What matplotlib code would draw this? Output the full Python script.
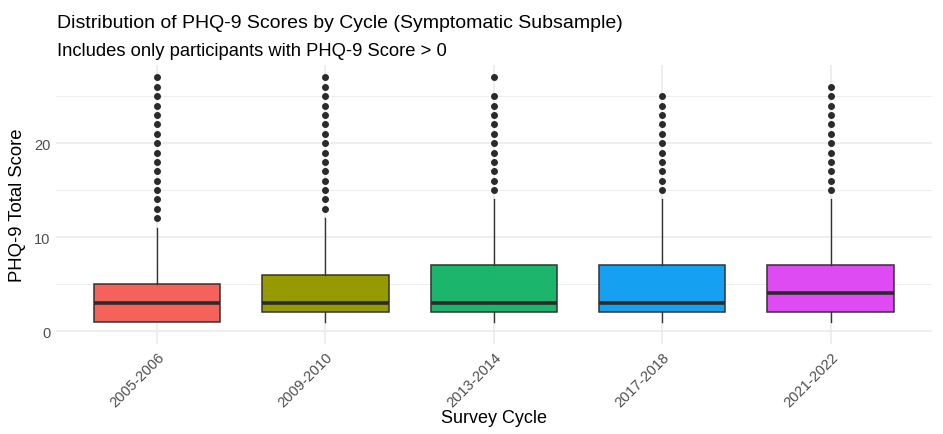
import matplotlib
matplotlib.use("Agg")
import matplotlib.pyplot as plt
import numpy as np

# dados
ciclos = ["2005-2006", "2009-2010", "2013-2014", "2017-2018", "2021-2022"]
q1 = [1, 2, 2, 2, 2]
mediana = [3, 3, 3, 3, 4]
q3 = [5, 6, 7, 7, 7]
bigode_inf = [1, 1, 1, 1, 1]
bigode_sup = [11, 12, 14, 14, 14]
outliers = [
    list(range(12, 28)),
    list(range(13, 28)),
    list(range(15, 26)) + [27],
    list(range(15, 26)),
    list(range(15, 27)),
]
cores = ["#F5625C", "#959A00", "#1BB66B", "#16A0F2", "#DE4BF2"]

plt.rcParams["font.family"] = ["Liberation Sans", "DejaVu Sans"]

fig = plt.figure(figsize=(9.43, 4.35), dpi=100)
ax = fig.add_axes([0.0594, 0.2076, 0.9286, 0.6414])

stats = []
for i in range(len(ciclos)):
    stats.append({
        "med": mediana[i], "q1": q1[i], "q3": q3[i],
        "whislo": bigode_inf[i], "whishi": bigode_sup[i],
        "fliers": outliers[i], "label": ciclos[i],
    })

pos = np.arange(len(ciclos))
bp = ax.bxp(stats, positions=pos, widths=0.75, patch_artist=True,
            showcaps=False,
            boxprops=dict(edgecolor="#333333", linewidth=1.1),
            medianprops=dict(color="#2b2b2b", linewidth=2.6),
            whiskerprops=dict(color="#333333", linewidth=1.0),
            flierprops=dict(marker="o", markerfacecolor="#2b2b2b",
                            markeredgecolor="#2b2b2b", markersize=4),
            zorder=3)
for caixa, cor in zip(bp["boxes"], cores):
    caixa.set_facecolor(cor)

ax.set_xlim(-0.6, len(ciclos) - 0.4)
ax.set_ylim(-1.35, 28.35)
ax.set_yticks([0, 10, 20])
ax.set_yticks([5, 15, 25], minor=True)
ax.set_xticks(pos)
ax.set_xticklabels(ciclos, rotation=45, ha="right", rotation_mode="anchor")

ax.grid(which="major", color="#EBEBEB", linewidth=1.2, zorder=0)
ax.grid(which="minor", axis="y", color="#EBEBEB", linewidth=0.6, zorder=0)
ax.set_axisbelow(True)
for s in ax.spines.values():
    s.set_visible(False)
ax.tick_params(which="both", length=0, labelsize=10.5, labelcolor="#4D4D4D", pad=4)

ax.set_xlabel("Survey Cycle", fontsize=13, labelpad=0)
ax.set_ylabel("PHQ-9 Total Score", fontsize=13.3, labelpad=6)

fig.text(0.0604, 0.935, "Distribution of PHQ-9 Scores by Cycle (Symptomatic Subsample)",
         fontsize=14, ha="left", va="baseline")
fig.text(0.0604, 0.872, "Includes only participants with PHQ-9 Score > 0",
         fontsize=13.2, ha="left", va="baseline")

fig.savefig("out.png", dpi=100)
